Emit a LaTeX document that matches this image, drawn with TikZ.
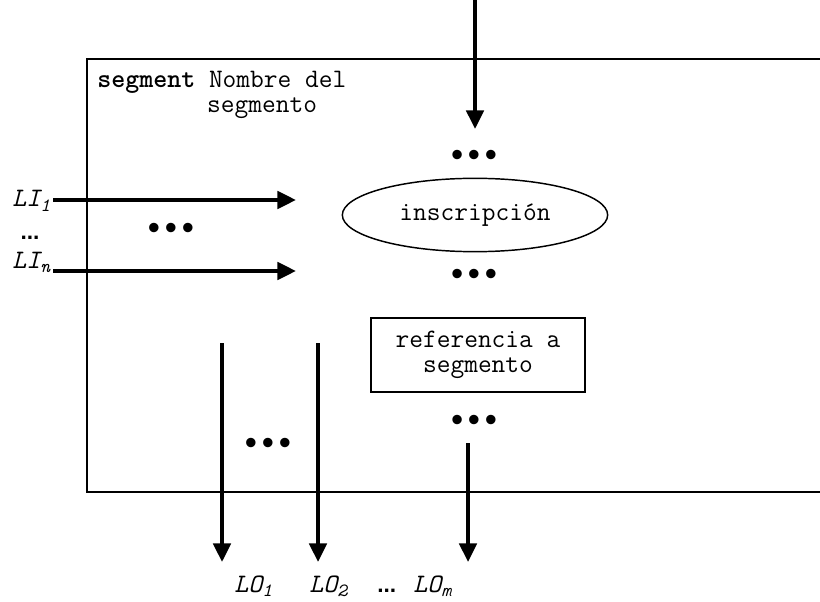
\documentclass[tikz,border=0pt]{standalone}
\usepackage{fontspec}
\newfontfamily\dotfont{Liberation Sans}
\usetikzlibrary{arrows.meta,shapes.geometric}
\newcommand{\bigbul}{•\hspace{3.6pt}•\hspace{3.6pt}•}
\tikzset{
  flow/.style={line width=2.8pt,-{Triangle[width=13pt,length=14pt]}},
  frame/.style={line width=1.5pt},
  lbl/.style={font=\ttfamily\fontsize{20}{19}\selectfont,inner sep=0pt},
  bigdots/.style={font=\dotfont\fontsize{26}{26}\selectfont,inner sep=0pt},
  smalldots/.style={font=\dotfont\bfseries\fontsize{17}{17}\selectfont,inner sep=0pt},
}
\begin{document}
\begin{tikzpicture}[x=0.75pt,y=-0.75pt]
\useasboundingbox (0,0) rectangle (820,602);
% frame (open to the right)
\draw[frame] (822,59) -- (87,59) -- (87,492) -- (822,492);
\node[lbl,anchor=base west,align=left] (title) at (97,113)
  {\textbf{segment} Nombre del\\\hphantom{segment }segmento};
% top incoming arrow
\coordinate (tin) at (475,0);
\coordinate (tout) at (475,129);
\draw[flow] (tin) -- (tout);
\node[bigdots] (d1) at (474,158) {\bigbul};
\node[draw,ellipse,line width=1.1pt,minimum width=199pt,minimum height=55pt,lbl] (ins) at (475,215) {inscripción};
\node[bigdots] (d2) at (474,277) {\bigbul};
\node[draw,line width=1.5pt,minimum width=161pt,minimum height=55pt,lbl,align=center] (ref) at (478,355) {referencia a\\segmento};
\node[bigdots] (d3) at (474,423) {\bigbul};
% left inputs
\node[lbl,anchor=base west] (li1) at (12,207) {\itshape LI\textsubscript{1}};
\node[lbl,anchor=base west] (lin) at (12,268) {\itshape LI\textsubscript{n}};
\node[smalldots] (ldots) at (30,238) {...};
\coordinate (a1s) at (53,200);
\coordinate (a1e) at (296,200);
\coordinate (ans) at (53,271);
\coordinate (ane) at (296,271);
\draw[flow] (a1s) -- (a1e);
\draw[flow] (ans) -- (ane);
\node[bigdots] (d4) at (171,231) {\bigbul};
% outputs
\coordinate (o1s) at (222,343);
\coordinate (o1e) at (222,562);
\coordinate (o2s) at (318,343);
\coordinate (o2e) at (318,562);
\coordinate (oms) at (468,443);
\coordinate (ome) at (468,562);
\draw[flow] (o1s) -- (o1e);
\draw[flow] (o2s) -- (o2e);
\draw[flow] (oms) -- (ome);
\node[bigdots] (d5) at (268,446) {\bigbul};
\node[lbl,anchor=base west] (lo1) at (234,592) {\itshape LO\textsubscript{1}};
\node[lbl,anchor=base west] (lo2) at (309,592) {\itshape LO\textsubscript{2}};
\node[smalldots,anchor=base west] (odots) at (377,592) {...};
\node[lbl,anchor=base west] (lom) at (413,592) {\itshape LO\textsubscript{m}};
\end{tikzpicture}
\end{document}
